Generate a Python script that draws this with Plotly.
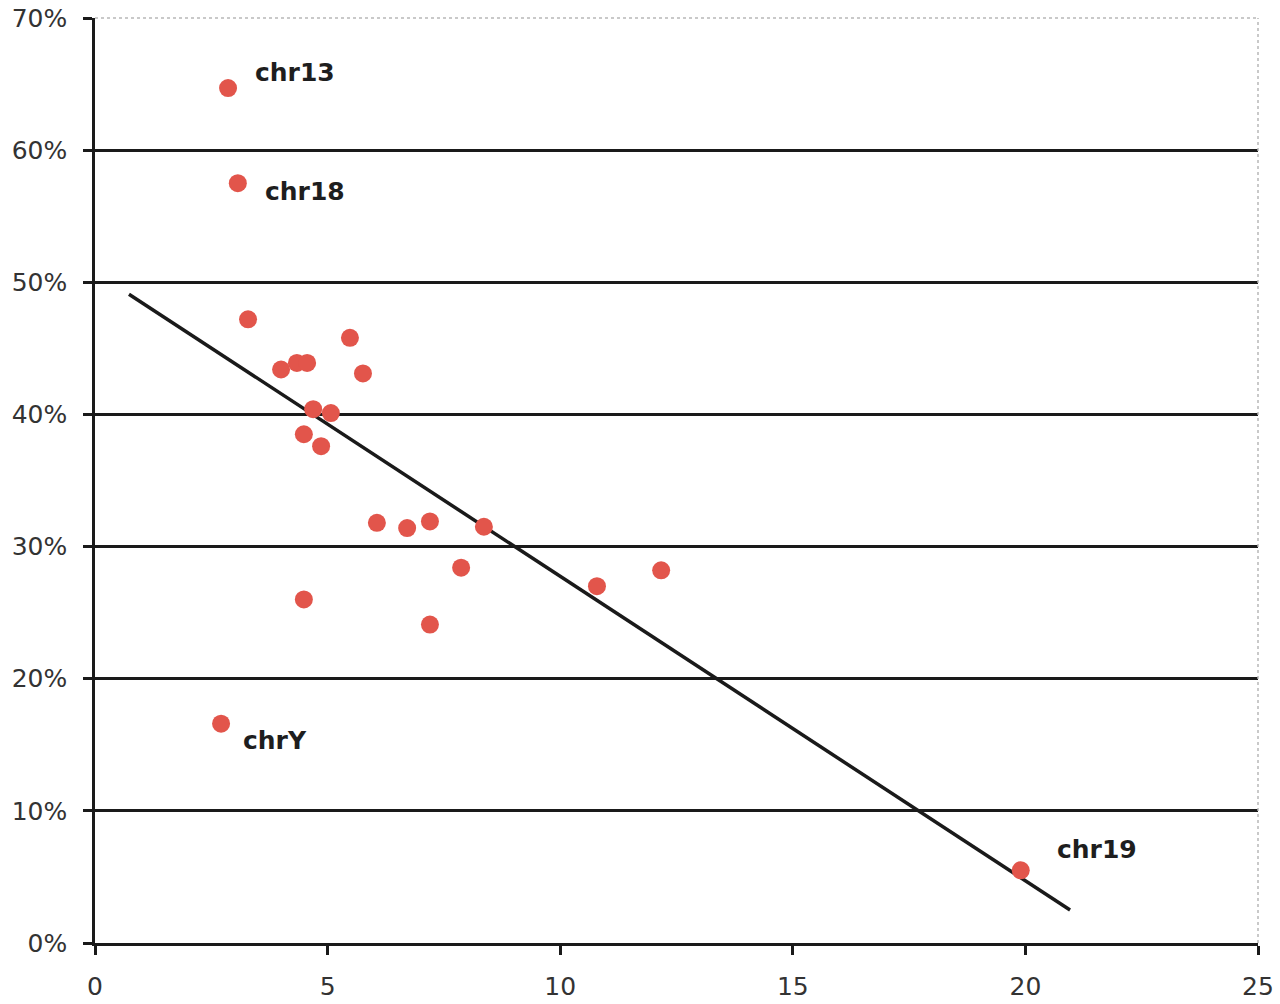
import plotly.graph_objects as go

# Scatter data (x value, fraction)
x_vals = [2.86, 3.07, 3.29, 4.00, 4.34, 4.56, 5.48, 5.76, 4.69, 5.07, 4.49, 4.86,
          6.06, 6.71, 7.20, 8.36, 7.87, 7.20, 10.79, 12.17, 4.49, 2.71, 19.90]
y_vals = [0.647, 0.575, 0.472, 0.434, 0.439, 0.439, 0.458, 0.431, 0.404, 0.401, 0.385, 0.376,
          0.318, 0.314, 0.319, 0.315, 0.284, 0.241, 0.270, 0.282, 0.260, 0.166, 0.055]

# Trend line endpoints
trend_x = [0.73, 20.96]
trend_y = [0.491, 0.025]

# Labels
label_text = ["chr13", "chr18", "chrY", "chr19"]
label_x = [3.40, 3.61, 3.14, 20.64]
label_y = [0.659, 0.569, 0.153, 0.071]

x_ticks = [0, 5, 10, 15, 20, 25]
y_ticks = [0, 0.1, 0.2, 0.3, 0.4, 0.5, 0.6, 0.7]
y_tick_text = ["0%", "10%", "20%", "30%", "40%", "50%", "60%", "70%"]

fig = go.Figure()
fig.add_trace(go.Scatter(x=trend_x, y=trend_y, mode="lines",
                         line=dict(color="#1a1a1a", width=3.5), showlegend=False,
                         hoverinfo="skip"))
fig.add_trace(go.Scatter(x=x_vals, y=y_vals, mode="markers",
                         marker=dict(color="#e2554b", size=18, line=dict(width=0)),
                         showlegend=False))

for t, lx, ly in zip(label_text, label_x, label_y):
    fig.add_annotation(x=lx, y=ly, text="<b>" + t + "</b>", showarrow=False,
                       xanchor="left", yanchor="middle",
                       font=dict(family="DejaVu Sans", size=25, color="#1e1e1e"))

# faint top/right border
fig.add_shape(type="line", xref="paper", yref="paper", x0=0, x1=1, y0=1, y1=1,
              line=dict(color="#b8b8b8", width=1.5, dash="dot"))
fig.add_shape(type="line", xref="paper", yref="paper", x0=1, x1=1, y0=0, y1=1,
              line=dict(color="#b8b8b8", width=1.5, dash="dot"))

fig.update_layout(
    width=1280, height=1004,
    margin=dict(l=95, r=22, t=18, b=61),
    paper_bgcolor="white", plot_bgcolor="white",
    font=dict(family="DejaVu Sans", size=25, color="#333333"),
    xaxis=dict(range=[0, 25], tickvals=x_ticks, showgrid=False, zeroline=False,
               showline=True, linecolor="#1a1a1a", linewidth=2.5, automargin=False,
               ticks="outside", ticklen=9, tickwidth=2.5, tickcolor="#1a1a1a",
               ticklabelstandoff=10,
               tickfont=dict(family="DejaVu Sans", size=25, color="#333333")),
    yaxis=dict(range=[0, 0.7], tickvals=y_ticks, ticktext=y_tick_text,
               showgrid=True, gridcolor="#1a1a1a", gridwidth=2.5, zeroline=False,
               showline=True, linecolor="#1a1a1a", linewidth=2.5, automargin=False,
               ticks="outside", ticklen=9, tickwidth=2.5, tickcolor="#1a1a1a",
               ticklabelstandoff=11,
               tickfont=dict(family="DejaVu Sans", size=25, color="#333333")),
)

fig.write_html("out.html",
               config={"displayModeBar": False},
               post_script="document.body.style.margin='0';document.body.style.padding='0';document.body.style.overflow='hidden';")
